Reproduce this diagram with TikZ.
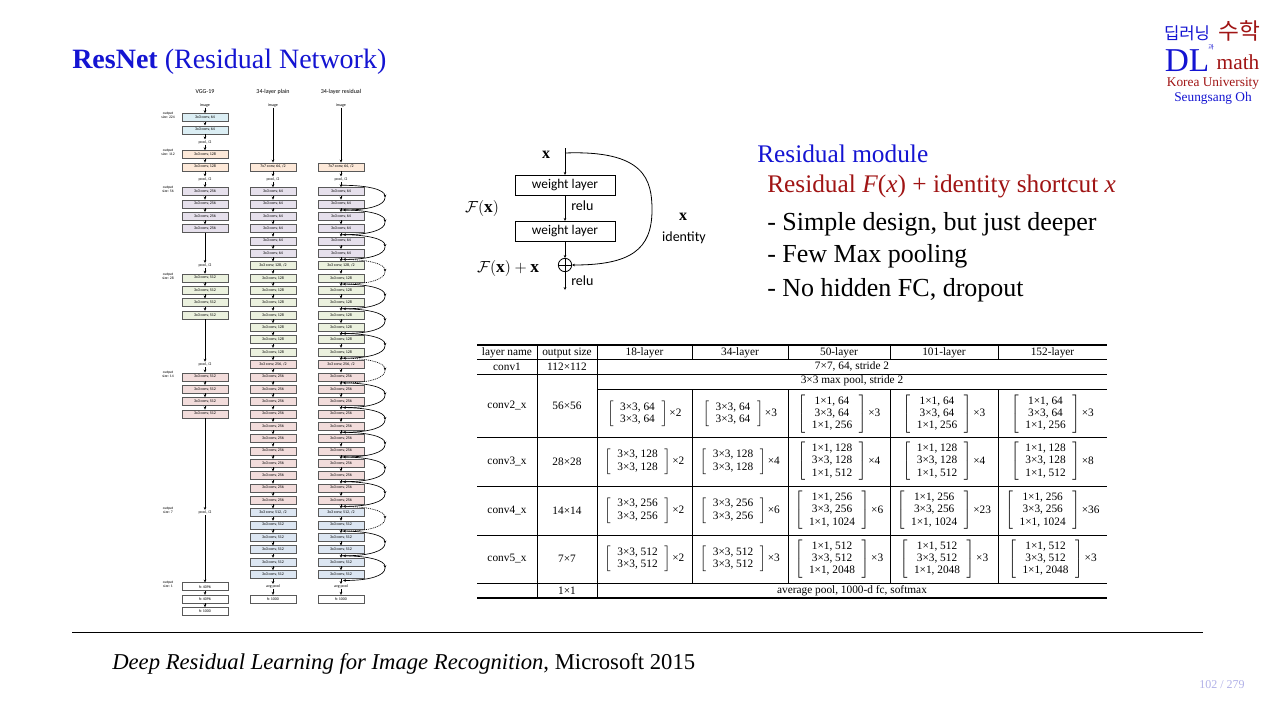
\documentclass[tikz,border=0pt]{standalone}
\usepackage{fontspec}
\usepackage{amsmath}
\setmainfont{Liberation Serif}
\newfontfamily\calf{Carlito}
\newfontfamily\krf{Noto Sans CJK KR}
\usetikzlibrary{arrows.meta}
\definecolor{tblue}{RGB}{20,20,210}
\definecolor{tred}{RGB}{160,20,20}
\definecolor{cbl}{RGB}{219,238,244}
\definecolor{cpe}{RGB}{253,233,217}
\definecolor{cla}{RGB}{230,224,236}
\definecolor{cgr}{RGB}{235,241,222}
\definecolor{cpk}{RGB}{242,220,219}
\definecolor{cbg}{RGB}{220,230,242}
\newcommand{\blkb}[3]{$\left[\begin{array}{c}\text{#1}\\\text{#2}\end{array}\right]\text{×#3}$}
\newcommand{\blkc}[4]{$\left[\begin{array}{c}\text{#1}\\\text{#2}\\\text{#3}\end{array}\right]\text{×#4}$}
\tikzset{
 bx/.style={draw=black!65, line width=0.3pt, minimum width=34.5pt, minimum height=6pt, inner sep=0pt, font=\calf\fontsize{3}{3}\selectfont},
 t/.style={inner sep=0.5pt, font=\calf\fontsize{3}{3}\selectfont},
 bl/.style={bx,fill=cbl}, pe/.style={bx,fill=cpe}, la/.style={bx,fill=cla},
 gr/.style={bx,fill=cgr}, pk/.style={bx,fill=cpk}, bg/.style={bx,fill=cbg}, wh/.style={bx,fill=white},
 ar/.style={-{Stealth[length=2.2pt,width=2pt]}, line width=0.6pt},
 sc/.style={line width=0.5pt},
 scd/.style={line width=0.5pt, dash pattern=on 0.7pt off 0.7pt},
 wl/.style={draw, line width=0.6pt, minimum width=75pt, minimum height=14pt, font=\calf\fontsize{10}{10}\selectfont},
 tc/.style={font=\fontsize{8.5}{10}\selectfont, inner sep=0pt},
 osz/.style={align=center, font=\calf\fontsize{2.8}{3}\selectfont},
}
\begin{document}
\begin{tikzpicture}[x=0.75pt,y=-0.75pt]
\path[use as bounding box, fill=white] (0,0) rectangle (1280,715);
% title
\node[anchor=west, text=tblue, font=\fontsize{21}{21}\selectfont, inner sep=0] (title) at (72,62) {\textbf{ResNet} (Residual Network)};
% logo
\node[text=tblue, font=\krf\fontsize{12.5}{12.5}\selectfont, inner sep=0] (lk1) at (1187,33) {딥러닝};
\node[text=tblue, font=\krf\fontsize{4.5}{4.5}\selectfont, inner sep=0] (lk2) at (1211,47) {과};
\node[text=tred, font=\krf\fontsize{17}{17}\selectfont, inner sep=0] (lk3) at (1239,31) {수학};
\node[text=tblue, font=\fontsize{25}{25}\selectfont, inner sep=0] (ldl) at (1187,61) {DL};
\node[text=tred, font=\fontsize{16}{16}\selectfont, inner sep=0] (lm) at (1238,62) {math};
\node[text=tred, font=\fontsize{10}{10}\selectfont, inner sep=0] (lku) at (1213,84) {Korea University};
\node[text=tblue, font=\fontsize{10}{10}\selectfont, inner sep=0] (lso) at (1213,98) {Seungsang Oh};
% headers
\node[font=\calf\fontsize{4.5}{5}\selectfont] (h1) at (205,92) {VGG-19};
\node[font=\calf\fontsize{4.5}{5}\selectfont] (h2) at (273,92) {34-layer plain};
\node[font=\calf\fontsize{4.5}{5}\selectfont] (h3) at (341,92) {34-layer residual};
% output sizes
\foreach \k/\s in {1/224,4/112,7/56,14/28,22/14,33/7,39/1}
 \node[osz] (os\s) at (168,{105+12.35*\k-2}) {output\\size: \s};
% VGG
\foreach \k/\st/\tx [remember=\k as \pk (initially -1)] in {0/t/image,1/bl/{3x3 conv, 64},2/bl/{3x3 conv, 64},3/t/{pool, /2},4/pe/{3x3 conv, 128},5/pe/{3x3 conv, 128},6/t/{pool, /2},7/la/{3x3 conv, 256},8/la/{3x3 conv, 256},9/la/{3x3 conv, 256},10/la/{3x3 conv, 256},13/t/{pool, /2},14/gr/{3x3 conv, 512},15/gr/{3x3 conv, 512},16/gr/{3x3 conv, 512},17/gr/{3x3 conv, 512},21/t/{pool, /2},22/pk/{3x3 conv, 512},23/pk/{3x3 conv, 512},24/pk/{3x3 conv, 512},25/pk/{3x3 conv, 512},33/t/{pool, /2},39/wh/{fc 4096},40/wh/{fc 4096},41/wh/{fc 1000}}{
 \node[\st] (v\k) at (205,{105+12.35*\k}) {\tx};
 \ifnum\pk>-1 \draw[ar] (v\pk) -- (v\k); \fi
}
% plain and residual
\foreach \c/\xx in {p/273,r/341}{
\foreach \k/\st/\tx [remember=\k as \pk (initially -1)] in {0/t/image,5/pe/{7x7 conv, 64, /2},6/t/{pool, /2},7/la/{3x3 conv, 64},8/la/{3x3 conv, 64},9/la/{3x3 conv, 64},10/la/{3x3 conv, 64},11/la/{3x3 conv, 64},12/la/{3x3 conv, 64},13/gr/{3x3 conv, 128, /2},14/gr/{3x3 conv, 128},15/gr/{3x3 conv, 128},16/gr/{3x3 conv, 128},17/gr/{3x3 conv, 128},18/gr/{3x3 conv, 128},19/gr/{3x3 conv, 128},20/gr/{3x3 conv, 128},21/pk/{3x3 conv, 256, /2},22/pk/{3x3 conv, 256},23/pk/{3x3 conv, 256},24/pk/{3x3 conv, 256},25/pk/{3x3 conv, 256},26/pk/{3x3 conv, 256},27/pk/{3x3 conv, 256},28/pk/{3x3 conv, 256},29/pk/{3x3 conv, 256},30/pk/{3x3 conv, 256},31/pk/{3x3 conv, 256},32/pk/{3x3 conv, 256},33/bg/{3x3 conv, 512, /2},34/bg/{3x3 conv, 512},35/bg/{3x3 conv, 512},36/bg/{3x3 conv, 512},37/bg/{3x3 conv, 512},38/bg/{3x3 conv, 512},39/t/{avg pool},40/wh/{fc 1000}}{
 \node[\st] (\c\k) at (\xx,{105+12.35*\k}) {\tx};
 \ifnum\pk>-1 \draw[ar] (\c\pk) -- (\c\k); \fi
}}
% shortcuts
\foreach \s/\sty in {6/sc,8/sc,10/sc,12/scd,14/sc,16/sc,18/sc,20/scd,22/sc,24/sc,26/sc,28/sc,30/sc,32/scd,34/sc,36/sc}{
 \coordinate (sa\s) at (342,{105+12.35*(\s+0.5)});
 \coordinate (sm\s) at (385,{105+12.35*(\s+1.5)});
 \coordinate (se\s) at (343,{105+12.35*(\s+2.5)});
 \draw[\sty,-{Stealth[length=2.2pt,width=2pt]}] (sa\s) .. controls (370,{105+12.35*(\s+0.5)}) and (385,{105+12.35*(\s+0.9)}) .. (sm\s);
 \draw[\sty,-{Stealth[length=2.2pt,width=2pt]}] (sm\s) .. controls (385,{105+12.35*(\s+2.1)}) and (370,{105+12.35*(\s+2.5)}) .. (se\s);
}
% residual module
\node[font=\fontsize{12}{12}\selectfont, inner sep=0] (mx) at (546,155) {$\mathbf{x}$};
\coordinate (mtop) at (565,148);
\node[wl] (w1) at (565,185.5) {weight layer};
\node[wl] (w2) at (565,231.5) {weight layer};
\node[draw, circle, line width=0.6pt, minimum size=10pt, inner sep=0] (pl) at (565,265) {};
\draw[line width=0.5pt] (pl.north) -- (pl.south) (pl.west) -- (pl.east);
\coordinate (mend) at (565,290);
\draw[ar] (mtop) -- (w1);
\draw[ar] (w1) -- (w2);
\draw[ar] (w2) -- (pl);
\draw[ar] (pl) -- (mend);
\draw[ar] (565,153) .. controls (645,150) and (652,180) .. (652,210) .. controls (652,250) and (630,265) .. (pl.east);
\node[font=\calf\fontsize{10.5}{11}\selectfont, anchor=west, inner sep=0] (r1) at (571,206) {relu};
\node[font=\calf\fontsize{10.5}{11}\selectfont, anchor=west, inner sep=0] (r2) at (571,281) {relu};
\node[font=\fontsize{13}{13}\selectfont, inner sep=0] (fx) at (482,208) {$\mathcal{F}(\mathbf{x})$};
\node[font=\fontsize{13}{13}\selectfont, inner sep=0] (fxx) at (508,268) {$\mathcal{F}(\mathbf{x})+\mathbf{x}$};
\node[font=\fontsize{12}{12}\selectfont, inner sep=0] (ix) at (683,217) {$\mathbf{x}$};
\node[font=\calf\fontsize{10.5}{11}\selectfont, inner sep=0] (id) at (684,238) {identity};
% text
\node[anchor=west, text=tblue, font=\fontsize{19}{19}\selectfont, inner sep=0] (rm) at (757,154) {Residual module};
\node[anchor=west, text=tred, font=\fontsize{19}{19}\selectfont, inner sep=0] (rf) at (767,186) {Residual \textit{F}(\textit{x}) + identity shortcut \textit{x}};
\node[anchor=west, font=\fontsize{19.5}{19.5}\selectfont, inner sep=0] (b1) at (767,224) {- Simple design, but just deeper};
\node[anchor=west, font=\fontsize{19.5}{19.5}\selectfont, inner sep=0] (b2) at (767,256) {- Few Max pooling};
\node[anchor=west, font=\fontsize{19.5}{19.5}\selectfont, inner sep=0] (b3) at (767,290) {- No hidden FC, dropout};
% table lines
\draw[line width=0.8pt] (477,345) -- (1107,345) (477,598) -- (1107,598);
\draw[line width=0.4pt] (477,359) -- (1107,359) (477,374) -- (1107,374) (597,389) -- (1107,389)
 (477,437) -- (1107,437) (477,486) -- (1107,486) (477,535) -- (1107,535) (477,583) -- (1107,583)
 (537,345) -- (537,598) (597,345) -- (597,598);
\foreach \x in {692,788,890,998} \draw[line width=0.4pt] (\x,345) -- (\x,359) (\x,389) -- (\x,583);
% table text
\foreach \x/\t [count=\i] in {507/layer name,567/output size,644.5/18-layer,740/34-layer,839/50-layer,944/101-layer,1052.5/152-layer}
 \node[tc] (hd\i) at (\x,352.5) {\t};
\node[tc] (c1a) at (507,366.5) {conv1};
\node[tc] (c1b) at (567,366.5) {112×112};
\node[tc] (c1c) at (852,366.5) {7×7, 64, stride 2};
\node[tc] (mp) at (852,381) {3×3 max pool, stride 2};
\node[tc] (c2a) at (507,405.5) {conv2\_x};
\node[tc] (c2b) at (567,405.5) {56×56};
\node[tc] (c3a) at (507,461.5) {conv3\_x};
\node[tc] (c3b) at (567,461.5) {28×28};
\node[tc] (c4a) at (507,510.5) {conv4\_x};
\node[tc] (c4b) at (567,510.5) {14×14};
\node[tc] (c5a) at (507,559) {conv5\_x};
\node[tc] (c5b) at (567,559) {7×7};
\node[tc] (l1) at (567,590.5) {1×1};
\node[tc] (l2) at (852,590.5) {average pool, 1000-d fc, softmax};
% blocks
\def\arraystretch{0.92}
\node[tc] (t21) at (644.5,414) {\blkb{3×3, 64}{3×3, 64}{2}};
\node[tc] (t22) at (740,414) {\blkb{3×3, 64}{3×3, 64}{3}};
\node[tc] (t23) at (839,414) {\blkc{1×1, 64}{3×3, 64}{1×1, 256}{3}};
\node[tc] (t24) at (944,414) {\blkc{1×1, 64}{3×3, 64}{1×1, 256}{3}};
\node[tc] (t25) at (1052.5,414) {\blkc{1×1, 64}{3×3, 64}{1×1, 256}{3}};
\node[tc] (t31) at (644.5,461.5) {\blkb{3×3, 128}{3×3, 128}{2}};
\node[tc] (t32) at (740,461.5) {\blkb{3×3, 128}{3×3, 128}{4}};
\node[tc] (t33) at (839,461.5) {\blkc{1×1, 128}{3×3, 128}{1×1, 512}{4}};
\node[tc] (t34) at (944,461.5) {\blkc{1×1, 128}{3×3, 128}{1×1, 512}{4}};
\node[tc] (t35) at (1052.5,461.5) {\blkc{1×1, 128}{3×3, 128}{1×1, 512}{8}};
\node[tc] (t41) at (644.5,510.5) {\blkb{3×3, 256}{3×3, 256}{2}};
\node[tc] (t42) at (740,510.5) {\blkb{3×3, 256}{3×3, 256}{6}};
\node[tc] (t43) at (839,510.5) {\blkc{1×1, 256}{3×3, 256}{1×1, 1024}{6}};
\node[tc] (t44) at (944,510.5) {\blkc{1×1, 256}{3×3, 256}{1×1, 1024}{23}};
\node[tc] (t45) at (1052.5,510.5) {\blkc{1×1, 256}{3×3, 256}{1×1, 1024}{36}};
\node[tc] (t51) at (644.5,559) {\blkb{3×3, 512}{3×3, 512}{2}};
\node[tc] (t52) at (740,559) {\blkb{3×3, 512}{3×3, 512}{3}};
\node[tc] (t53) at (839,559) {\blkc{1×1, 512}{3×3, 512}{1×1, 2048}{3}};
\node[tc] (t54) at (944,559) {\blkc{1×1, 512}{3×3, 512}{1×1, 2048}{3}};
\node[tc] (t55) at (1052.5,559) {\blkc{1×1, 512}{3×3, 512}{1×1, 2048}{3}};
% footer
\draw[line width=0.6pt] (72,632) -- (1203,632);
\node[anchor=west, font=\fontsize{17}{17}\selectfont, inner sep=0] (cit) at (112,664) {\textit{Deep Residual Learning for Image Recognition},\ Microsoft 2015};
\node[text=black!30!blue!30, font=\fontsize{9}{9}\selectfont, inner sep=0] (pg) at (1222,685) {102 / 279};
\end{tikzpicture}
\end{document}
